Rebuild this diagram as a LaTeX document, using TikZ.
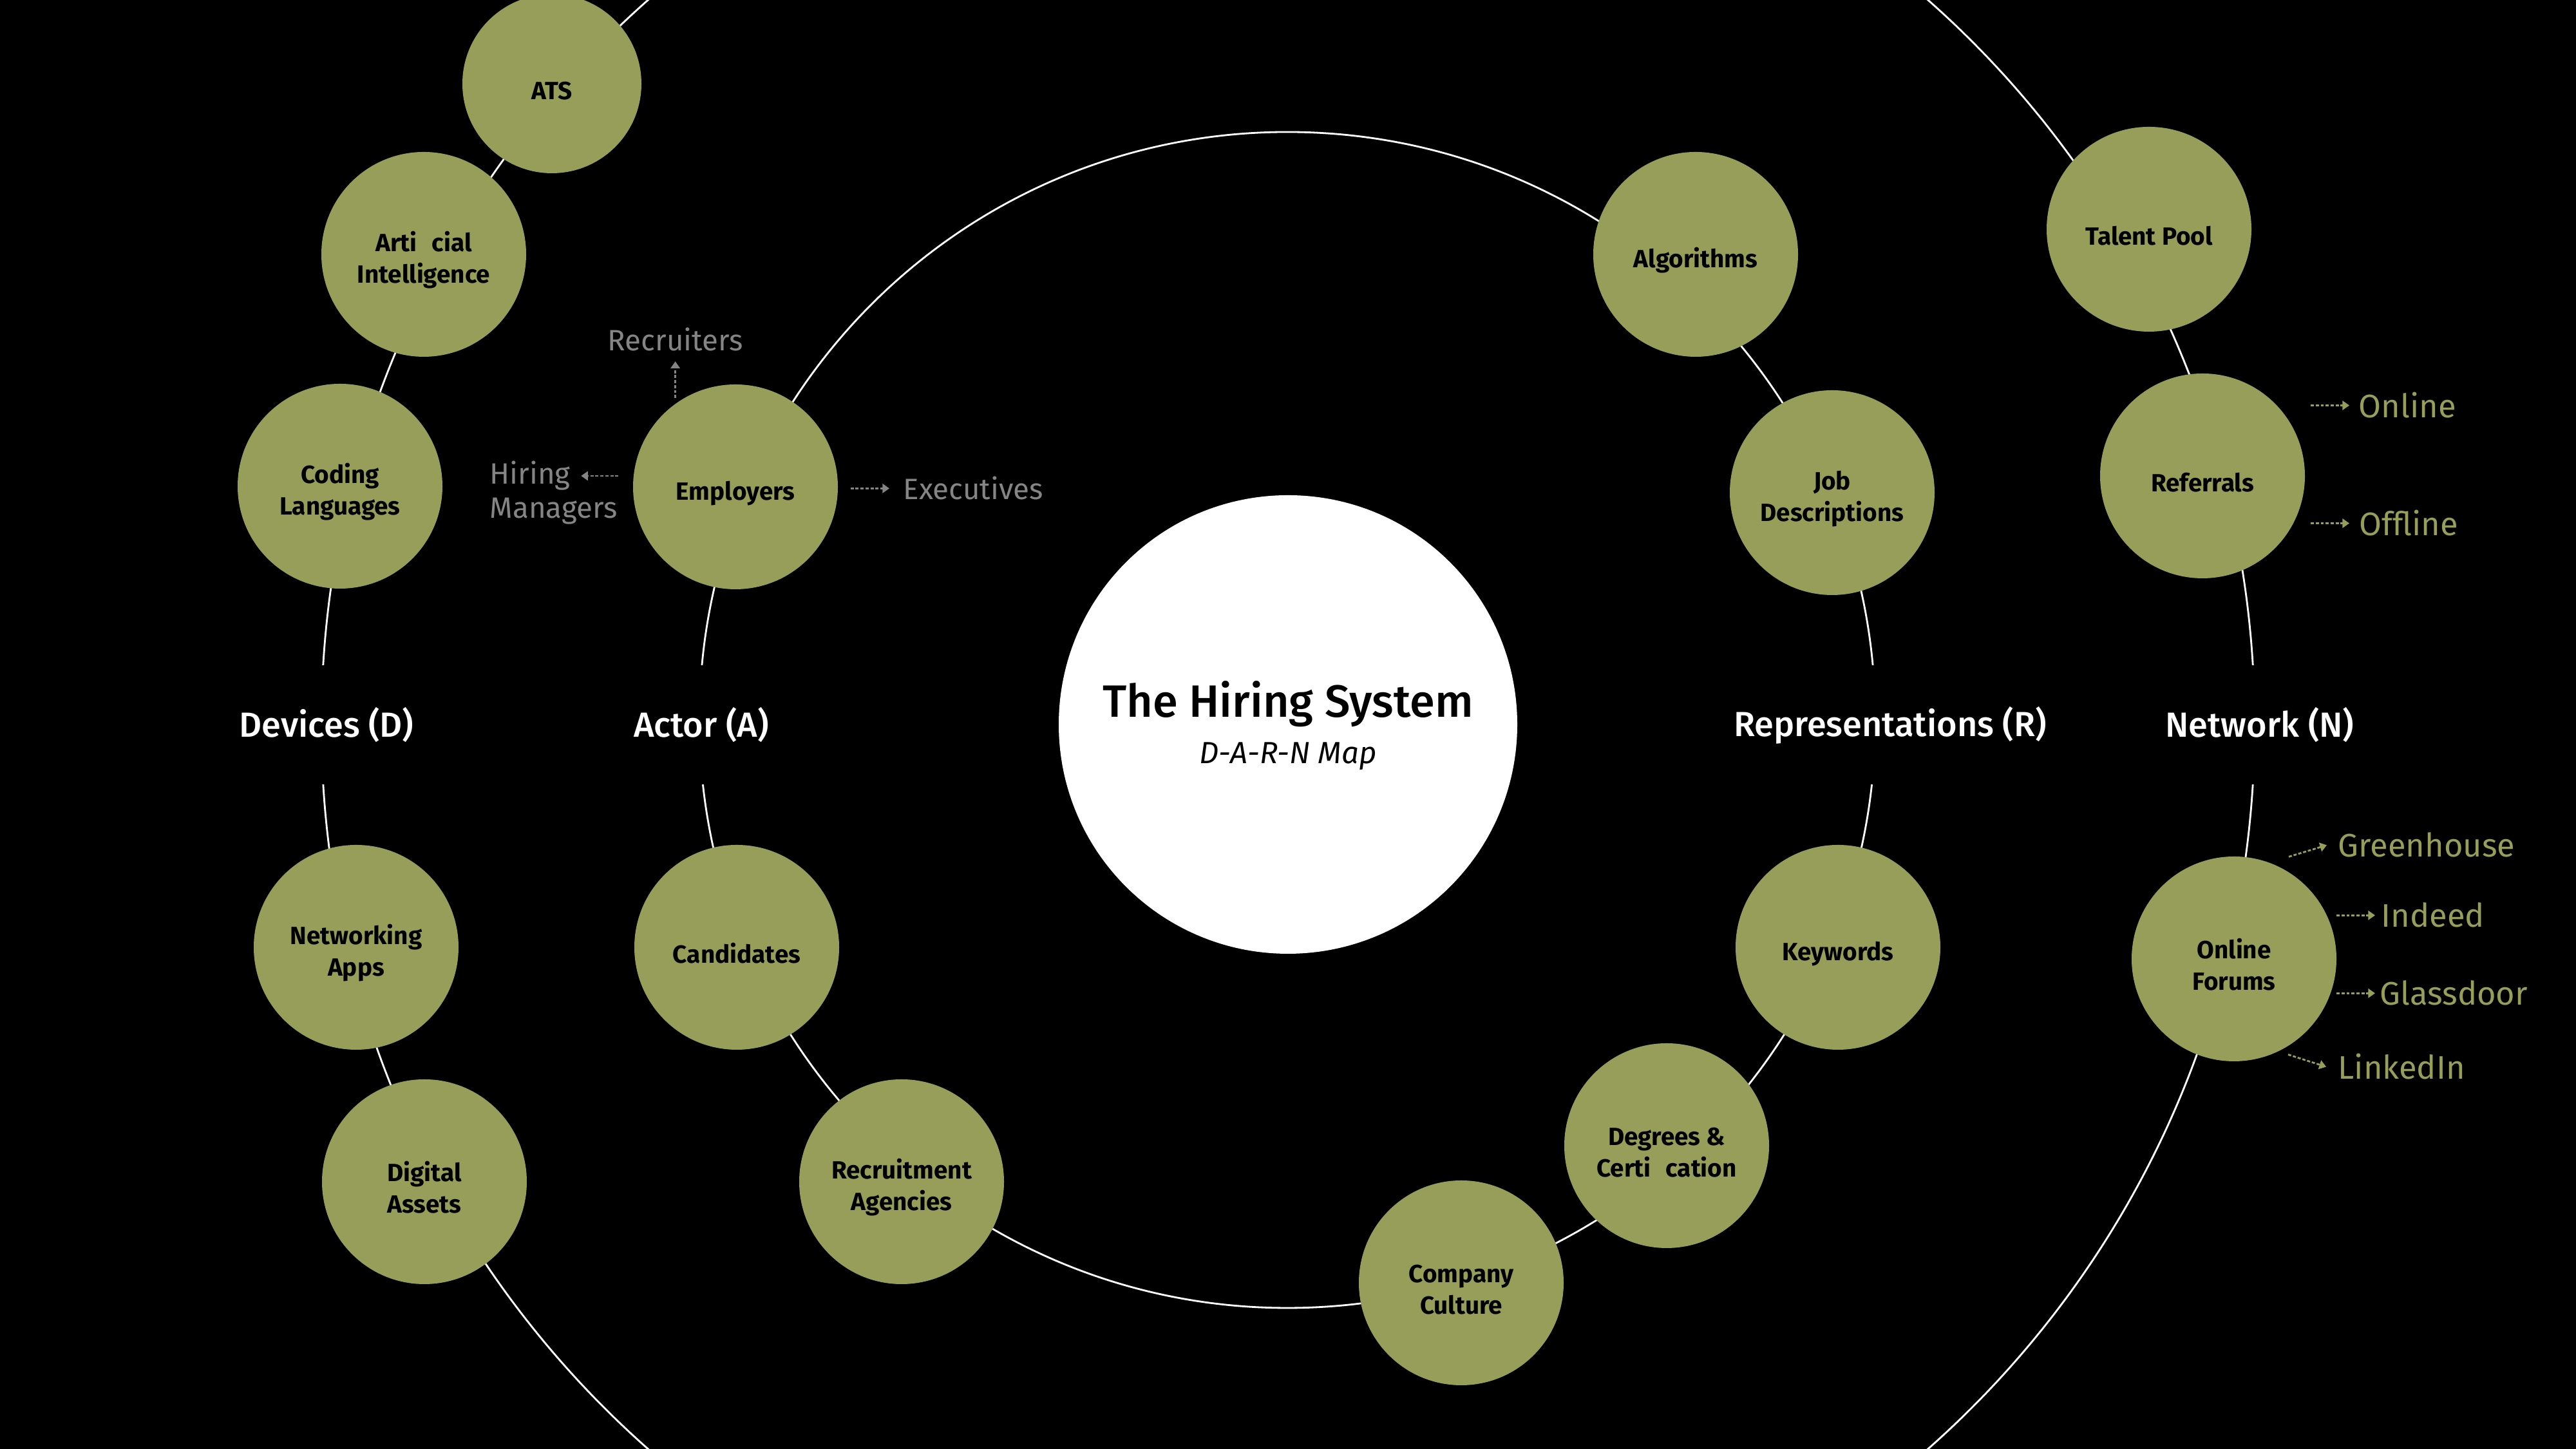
\documentclass[tikz,border=0pt]{standalone}
\usepackage{fontspec}
\setmainfont{Fira Sans}
\newfontfamily\medfont{Fira Sans Medium}
\usetikzlibrary{positioning}
\usetikzlibrary{arrows.meta}
\definecolor{darnolive}{HTML}{979E5A}
\definecolor{darngray}{HTML}{858585}
\tikzset{
        ring/.style={draw=white, line width=0.8pt},
        bubble/.style={circle, fill=darnolive, minimum size=3.18cm, inner sep=0pt, align=center,
          font=\bfseries\fontsize{11}{14}\selectfont,
          execute at begin node={\rule{0pt}{14pt}}}, % pushes the text a bit below the centre
        bubble2/.style={bubble, execute at begin node={\rule{0pt}{28pt}}}, % same, for two lines
        small bubble/.style={bubble, minimum size=2.78cm},
        ringlabel/.style={fill=black, text=white, minimum height=1.85cm, inner sep=1pt,
          font=\medfont\fontsize{15.4}{19}\selectfont},
        graylabel/.style={text=darngray, inner sep=0pt, anchor=base west, align=left,
          font=\fontsize{13}{15}\selectfont},
        greenlabel/.style={text=darnolive, inner sep=0pt, anchor=base west,
          font=\fontsize{14.4}{18}\selectfont},
        grayarrow/.style={draw=darngray, line width=0.8pt, dash pattern=on 1.4pt off 0.8pt,
          -{Triangle[length=3pt, width=4pt]}},
        greenarrow/.style={grayarrow, draw=darnolive},
}

\begin{document}
\begin{tikzpicture}
      \useasboundingbox (0,0) rectangle (40,22.5);
      \fill[black] (0,0) rectangle (40,22.5);

      % RINGS
      \coordinate (hubc) at (20,11.25);
      \draw[ring] (19.99,11.32) circle (9.13);
      \draw[ring] (hubc) circle (15.01);

      % HUB
      \node[circle, fill=white, minimum size=7.12cm, inner sep=0pt] (hub) at (hubc) {};
      \node[anchor=base, font=\medfont\fontsize{20}{24}\selectfont] (title) at (20,11.36) {The Hiring System};
      \node[anchor=base, font=\itshape\fontsize{13.5}{16}\selectfont] (subtitle) at (20,10.64) {D-A-R-N Map};

      % RING LABELS
      \node[ringlabel] (devices) at (5.07,11.24) {Devices (D)};
      \node[ringlabel] (actor) at (10.89,11.24) {Actor (A)};
      \node[ringlabel] (repr) at (29.35,11.24) {Representations (R)};
      \node[ringlabel] (network) at (35.09,11.24) {Network (N)};

      % DEVICES
      \node[small bubble] (ats) at (8.57,21.20) {ATS};
      \node[bubble2] (ai) at (6.58,18.55) {Arti\hspace{0.6em}cial\\Intelligence};
      \node[bubble2] (coding) at (5.28,14.95) {Coding\\Languages};
      \node[bubble2] (netapps) at (5.53,7.79) {Networking\\Apps};
      \node[bubble2] (digital) at (6.59,4.15) {Digital\\Assets};

      % ACTOR
      \node[bubble] (employers) at (11.42,14.94) {Employers};
      \node[bubble] (candidates) at (11.44,7.79) {Candidates};
      \node[bubble2] (agencies) at (14.00,4.15) {Recruitment\\Agencies};

      % REPRESENTATIONS
      \node[bubble] (algorithms) at (26.33,18.55) {Algorithms};
      \node[bubble2] (jobdesc) at (28.45,14.85) {Job\\Descriptions};
      \node[bubble] (keywords) at (28.54,7.79) {Keywords};
      \node[bubble2] (degrees) at (25.88,4.71) {Degrees \&\\Certi\hspace{0.6em}cation};
      \node[bubble2] (culture) at (22.69,2.58) {Company\\Culture};

      % NETWORK
      \node[bubble] (talent) at (33.37,18.94) {Talent Pool};
      \node[bubble] (referrals) at (34.20,15.11) {Referrals};
      \node[bubble2] (forums) at (34.69,7.61) {Online\\Forums};

      % employer roles
      \node[graylabel] (recruiters) at (9.43,17.05) {Recruiters};
      \node[graylabel, anchor=west] (hiring) at (7.60,14.85) {Hiring\\Managers};
      \node[graylabel] (executives) at (14.02,14.74) {Executives};
      \draw[grayarrow] ([yshift=-7.2mm]recruiters.south) -- ([yshift=-1.5mm]recruiters.south);
      \draw[grayarrow] ([xshift=-2.2mm, yshift=1.7mm]employers.west) -- ++(-0.58,0);
      \draw[grayarrow] ([xshift=1.9mm]employers.east |- executives.west) -- ([xshift=-2.1mm]executives.west);

      % referral channels
      \node[greenlabel] (online) at (36.62,16.01) {Online};
      \node[greenlabel] (offline) at (36.63,14.18) {Offline};
      \draw[greenarrow] ([xshift=-7.4mm]online.west) -- ([xshift=-1.4mm]online.west);
      \draw[greenarrow] ([xshift=-7.5mm]offline.west) -- ([xshift=-1.5mm]offline.west);

      % forum platforms
      \node[greenlabel] (greenhouse) at (36.30,9.19) {Greenhouse};
      \node[greenlabel] (indeed) at (36.97,8.10) {Indeed};
      \node[greenlabel] (glassdoor) at (36.95,6.89) {Glassdoor};
      \node[greenlabel] (linkedin) at (36.30,5.74) {LinkedIn};
      \draw[greenarrow] ([shift={(-7.6mm,-1.8mm)}]greenhouse.west) -- ([xshift=-1.7mm]greenhouse.west);
      \draw[greenarrow] ([xshift=-6.9mm]indeed.west) -- ([xshift=-0.9mm]indeed.west);
      \draw[greenarrow] ([xshift=-6.7mm]glassdoor.west) -- ([xshift=-0.7mm]glassdoor.west);
      \draw[greenarrow] ([shift={(-7.7mm,1.9mm)}]linkedin.west) -- ([xshift=-1.8mm]linkedin.west);
\end{tikzpicture}
\end{document}
